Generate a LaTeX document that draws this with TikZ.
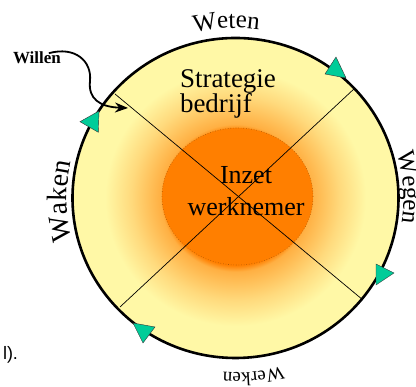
\documentclass[tikz,border=0pt]{standalone}
\usepackage{fontspec}
\setmainfont{Liberation Serif}
\newfontfamily\sansfam{Liberation Sans}
\usetikzlibrary{decorations.text,arrows.meta}
\definecolor{ora}{HTML}{FF7F00}
\definecolor{yel}{HTML}{FFF8A6}
\colorlet{peach}{ora!60!yel}
\colorlet{peachlight}{ora!25!yel}
\definecolor{tealtri}{HTML}{00CC99}
\definecolor{rimbrown}{HTML}{B35900}
\pgfdeclareradialshading{ringshade}{\pgfpoint{0bp}{0bp}}{color(0bp)=(ora); color(10.5bp)=(ora); color(11.5bp)=(peach); color(16bp)=(peachlight); color(20bp)=(yel); color(50bp)=(yel)}
\newcommand\fWeten{\fontsize{25}{25}\selectfont}
\newcommand\fWaken{\fontsize{28}{28}\selectfont}
\newcommand\fWegen{\fontsize{25}{25}\selectfont}
\newcommand\fWerken{\fontsize{19}{19}\selectfont}
\begin{document}
\begin{tikzpicture}[x=1pt,y=1pt,
  ring/.style={line width=2.6pt, draw=black, shading=ringshade},
  core/.style={fill=ora, draw=rimbrown, dotted, line width=0.6pt},
  axisline/.style={line width=0.7pt, draw=black},
  tri/.style={fill=tealtri, draw=black!80, line width=0.4pt, line join=miter},
  txt/.style={inner sep=0pt, outer sep=0pt},
  arc text/.style={decorate, decoration={text along path, text align=center, text={#1}}},
  ]
\useasboundingbox (0,0) rectangle (416,387);
% rings
\path[ring] (235.5,189) ellipse [x radius=163pt, y radius=160pt];
\path[core] (237.5,190.5) ellipse [x radius=75.5pt, y radius=68.5pt];
% diagonal lines
\coordinate (ul) at (115,293);
\coordinate (lr) at (363,87);
\coordinate (ur) at (355,299);
\coordinate (ll) at (120,80);
\draw[axisline] (ul) -- (lr);
\draw[axisline] (ur) -- (ll);
% triangles
\draw[tri] (80,265.3) -- (99,276) -- (98.3,254.7) -- cycle;
\draw[tri] (325,313) -- (336,330) -- (346,309) -- cycle;
\draw[tri] (376,123) -- (394,114) -- (376,102) -- cycle;
\draw[tri] (133,64) -- (155,60) -- (143,44) -- cycle;
% curved labels
\path[arc text={|\fWeten|Weten}] (155.7,339.1) arc[start angle=118, end angle=68, radius=170pt];
\path[arc text={|\fWaken|Waken}] (84.1,115.1) arc[start angle=206, end angle=156, radius=168.5pt];
\path[arc text={|\fWegen|Wegen}] (383.3,269.0) arc[start angle=28.4, end angle=-21.6, radius=168pt];
\path[arc text={|\fWerken|Werken}] (325.0,38.8) arc[start angle=-59.2, end angle=-109.2, radius=175pt];
% texts
\node[txt, anchor=north west, align=left, font=\fontsize{27}{25}\selectfont] (strat) at (180,317) {Strategie\\bedrijf};
\node[txt, anchor=north, align=center, font=\fontsize{26}{32}\selectfont] (inzet) at (246,221) {Inzet\\werknemer};
\node[txt, anchor=base west, font=\fontsize{17}{17}\selectfont\bfseries] (willen) at (13,323) {Willen};
\node[txt, anchor=base east, font=\sansfam\fontsize{18}{18}\selectfont] (frag) at (18,27) {l).};
% arrow
\coordinate (wtip) at (128,279);
\draw[line width=1.8pt, -{Stealth[length=13pt,width=10pt]}] ([xshift=-12pt,yshift=-1pt]willen.north east) .. controls (75,341) and (92,326) .. (90,306) .. controls (88,288) and (100,280) .. (wtip);
\end{tikzpicture}
\end{document}
